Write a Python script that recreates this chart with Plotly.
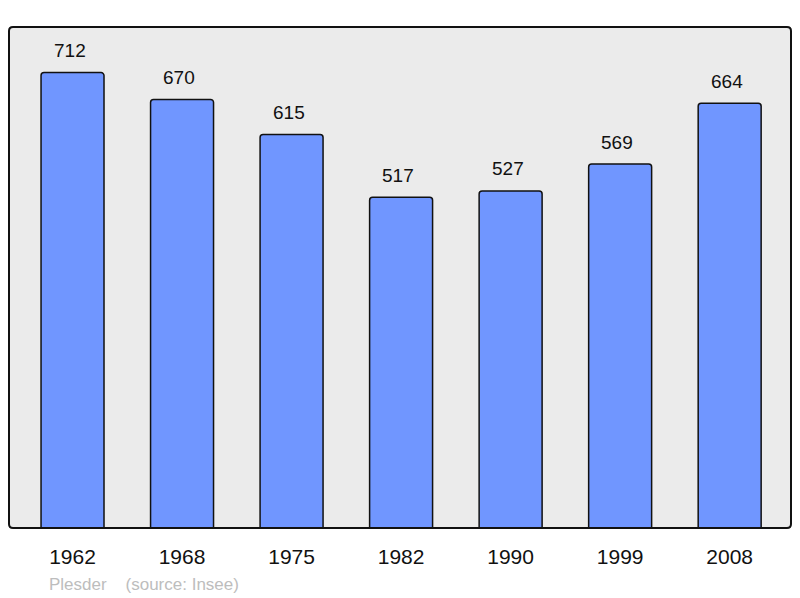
import plotly.graph_objects as go

years = ["1962", "1968", "1975", "1982", "1990", "1999", "2008"]
population = [712, 670, 615, 517, 527, 569, 664]
footer_name = "Plesder"
footer_source = "(source: Insee)"

W, H = 800, 598
L, R, T, B = 9, 9, 27, 70
pw, ph = W - L - R, H - T - B
FONT = "Liberation Sans, Arial, sans-serif"

fig = go.Figure()
fig.add_trace(go.Bar(
    x=years, y=population,
    width=0.575,
    marker=dict(color="#7096ff", line=dict(color="#111111", width=1.5), cornerradius=3),
    hoverinfo="x+y",
))

for i, v in enumerate(population):
    fig.add_annotation(x=i, y=v, text=str(v), showarrow=False, yshift=22, xshift=-3,
                       font=dict(size=19, color="#111111", family=FONT))

# rounded frame
rx, ry = 4 / pw, 4 / ph
path = (f"M {rx},0 L {1-rx},0 Q 1,0 1,{ry} L 1,{1-ry} Q 1,1 {1-rx},1 "
        f"L {rx},1 Q 0,1 0,{1-ry} L 0,{ry} Q 0,0 {rx},0 Z")
fig.add_shape(type="path", path=path, xref="paper", yref="paper",
              line=dict(color="#111111", width=2), layer="above")

fig.add_annotation(xref="paper", yref="paper", x=(47 - L) / pw, y=-(584 - (T + ph)) / ph,
                   xanchor="left", yanchor="middle", showarrow=False,
                   text=f"{footer_name}&nbsp;&nbsp;&nbsp;&nbsp;{footer_source}",
                   font=dict(size=17, color="#bdbdbd", family=FONT))

fig.update_layout(
    width=W, height=H,
    margin=dict(l=L, r=R, t=T, b=B),
    paper_bgcolor="white", plot_bgcolor="#ebebeb",
    showlegend=False,
    font=dict(family=FONT, color="#111111"),
    xaxis=dict(type="category", range=[-0.58, 6.56], showgrid=False, zeroline=False,
               showline=False, ticks="", tickfont=dict(size=21, color="#111111"),
               ticklabelstandoff=14, fixedrange=True),
    yaxis=dict(range=[0, 712 * 1.1], showgrid=False, zeroline=False, showline=False,
               showticklabels=False, ticks="", fixedrange=True),
)

fig.write_html("out.html", config={"displayModeBar": False},
               post_script="document.body.style.margin='0';")
